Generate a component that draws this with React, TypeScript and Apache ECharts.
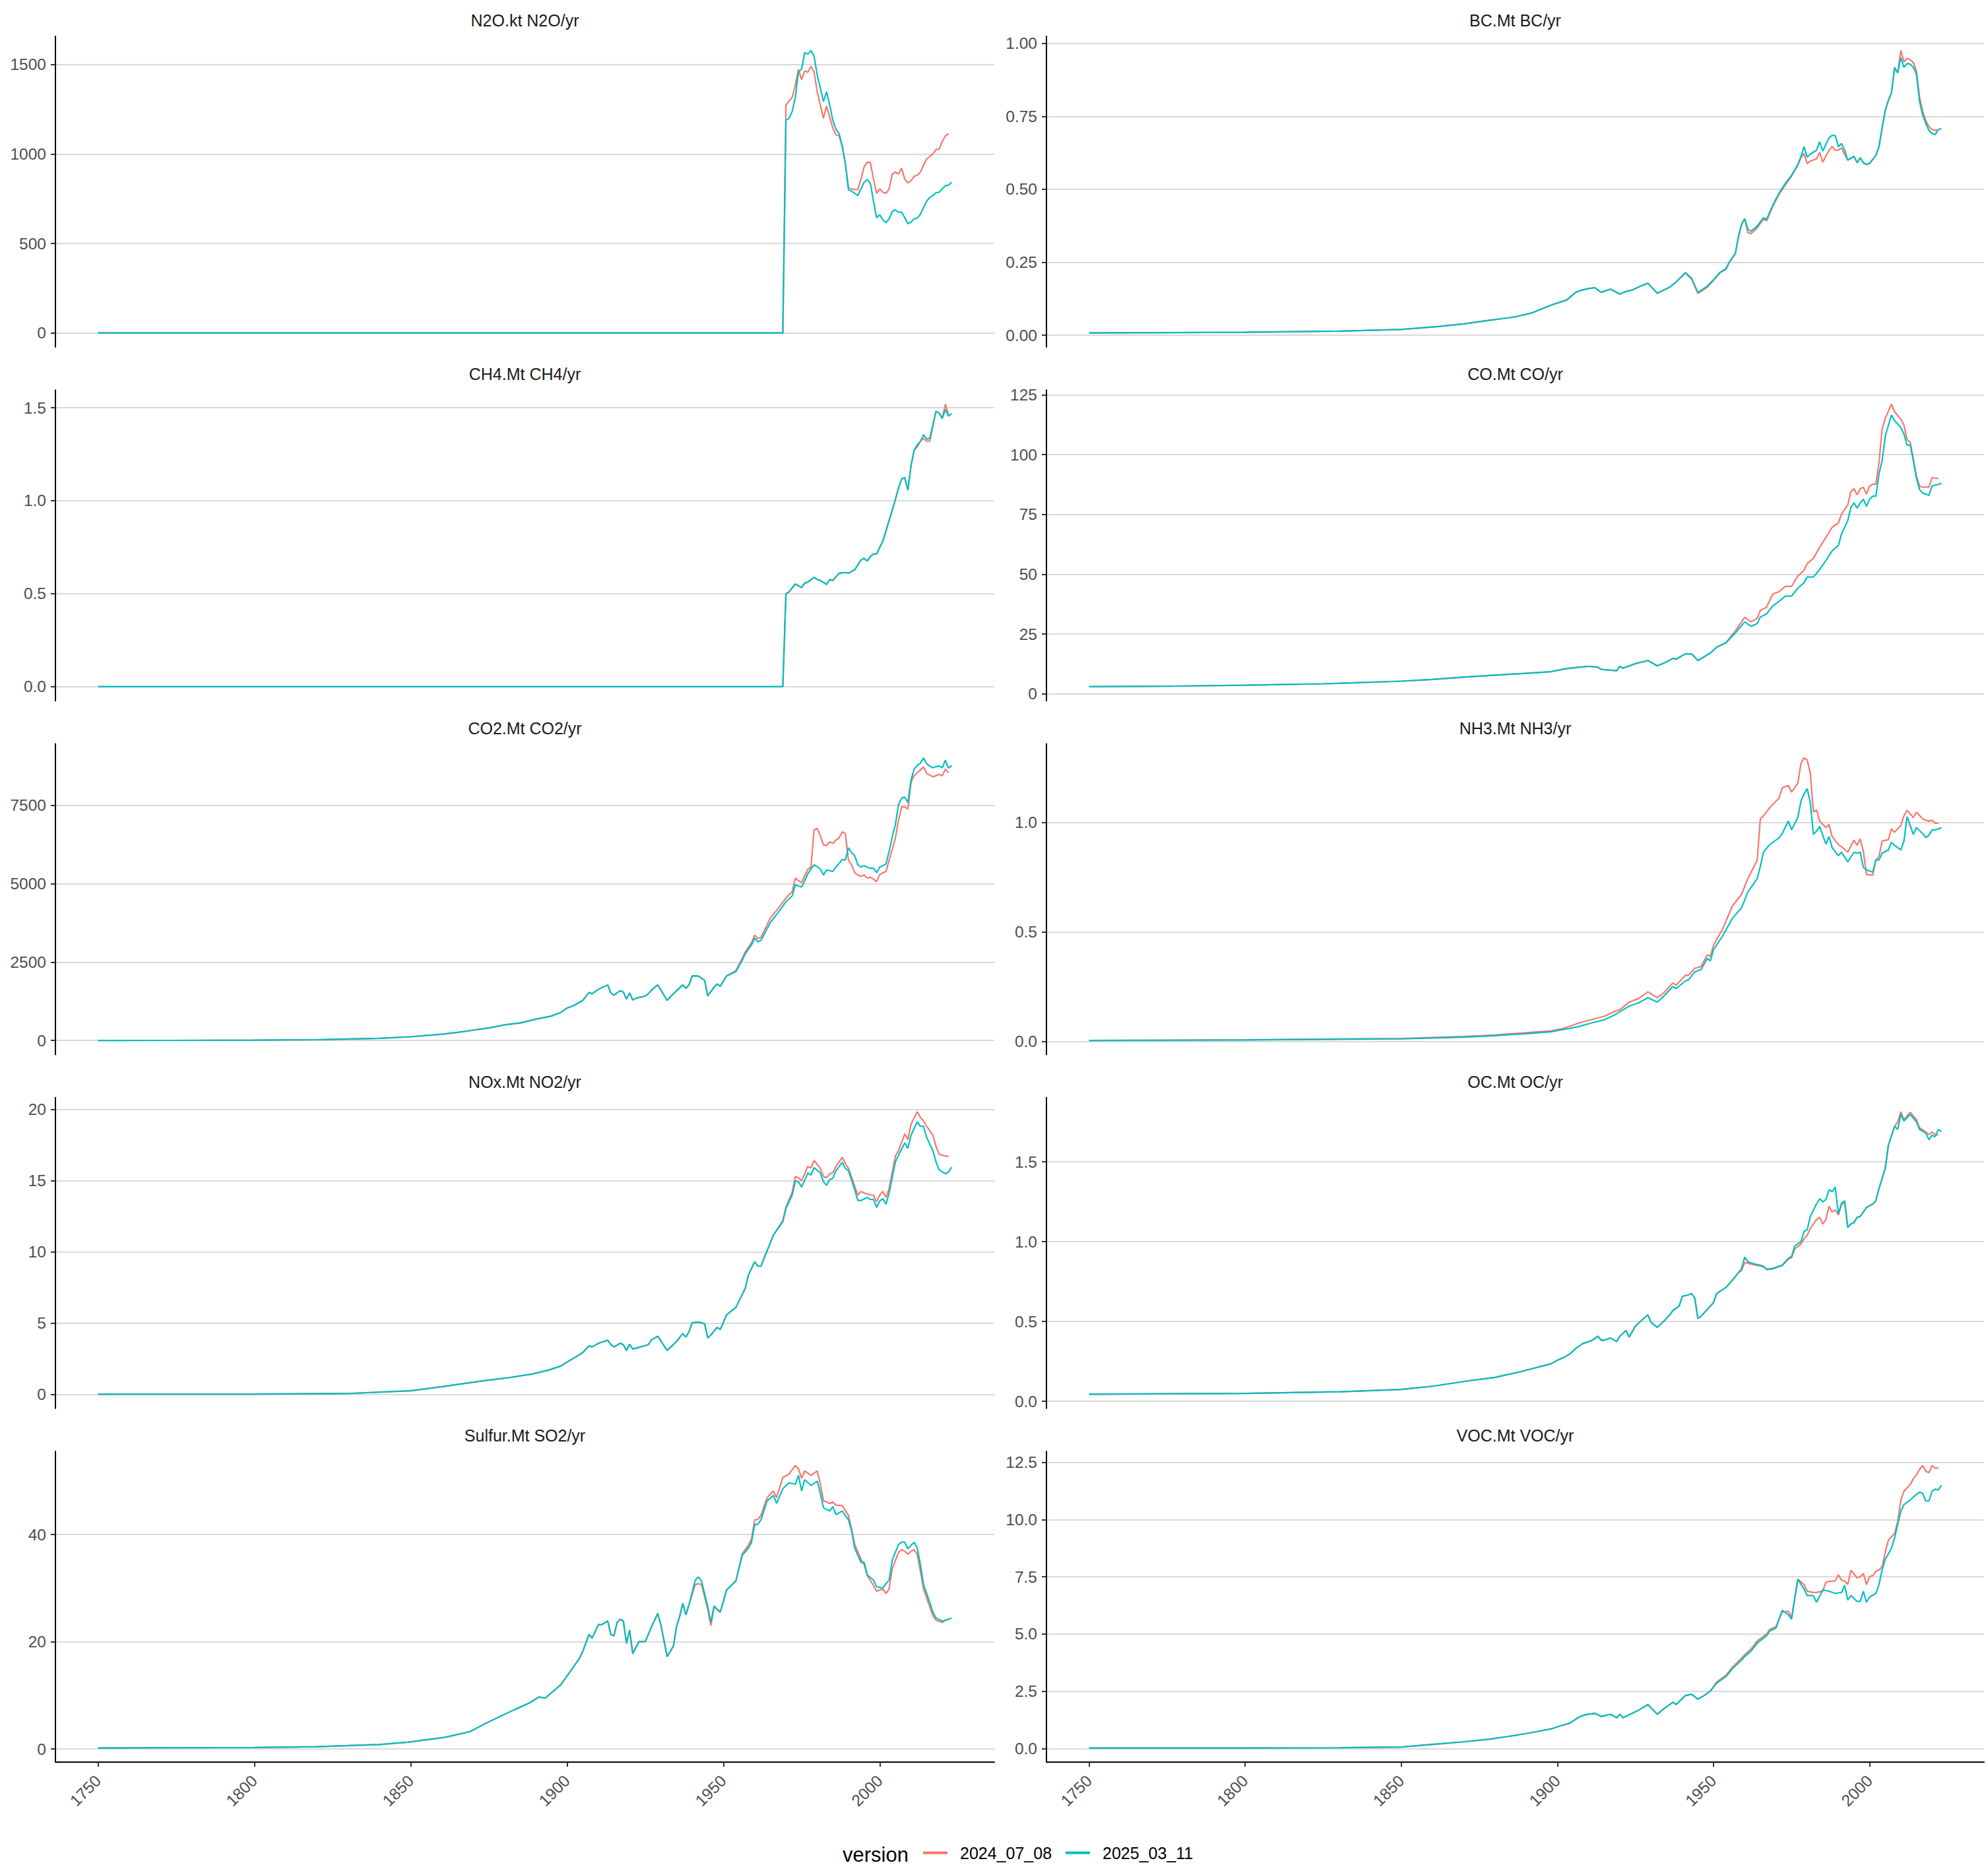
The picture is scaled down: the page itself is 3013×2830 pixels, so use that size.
import React, { useEffect, useRef } from "react";
import * as echarts from "echarts";

const FONT = "'Liberation Sans', Arial, Helvetica, sans-serif";
const VERSIONS = ["2024_07_08", "2025_03_11"];
const COLORS = ["#F8766D", "#00BFC4"];
const YEAR_TICKS = [1750, 1800, 1850, 1900, 1950, 2000];
const FIRST_YEAR = 1750;
const LAST_YEAR = 2023;

// ---------- N2O.kt N2O/yr ----------
const N2O_YEARS = [1750, 1969, 1970, 1971, 1972, 1973, 1974, 1975, 1976, 1977, 1978, 1979, 1980, 1981, 1982, 1983, 1984, 1985, 1986, 1987, 1988, 1989, 1990, 1991, 1992, 1993, 1994, 1995, 1996, 1997, 1998, 1999, 2000, 2001, 2002, 2003, 2004, 2005, 2006, 2007, 2008, 2009, 2010, 2011, 2012, 2013, 2014, 2015, 2016, 2017, 2018, 2019, 2020, 2021, 2022, 2023];
const N2O_V2024 = [0, 0, 1274, 1296, 1317, 1385, 1472, 1416, 1465, 1457, 1490, 1459, 1348, 1274, 1200, 1268, 1206, 1144, 1107, 1101, 1040, 947, 811, 805, 802, 801, 860, 928, 953, 953, 860, 780, 805, 786, 780, 805, 888, 898, 888, 920, 860, 838, 851, 875, 881, 898, 937, 972, 986, 1000, 1025, 1027, 1070, 1101, 1114, null];
const N2O_V2025 = [0, 0, 1188, 1200, 1237, 1317, 1459, 1475, 1567, 1558, 1579, 1546, 1441, 1367, 1293, 1348, 1274, 1188, 1138, 1114, 1046, 947, 799, 793, 780, 768, 805, 842, 857, 836, 737, 644, 660, 632, 616, 638, 678, 688, 675, 675, 644, 610, 620, 638, 641, 663, 700, 737, 756, 768, 784, 786, 805, 823, 826, 842];
const N2O_TICKS = [0, 500, 1000, 1500];

// ---------- BC.Mt BC/yr ----------
const BC_YEARS = [1750, 1800, 1830, 1850, 1862, 1870, 1878, 1886, 1892, 1898, 1903, 1906, 1908, 1910, 1912, 1914, 1917, 1920, 1922, 1924, 1927, 1929, 1932, 1936, 1938, 1941, 1943, 1945, 1948, 1950, 1952, 1954, 1955, 1957, 1958, 1959, 1960, 1961, 1962, 1964, 1966, 1967, 1969, 1971, 1973, 1975, 1977, 1978, 1979, 1980, 1981, 1983, 1984, 1985, 1987, 1988, 1989, 1990, 1991, 1992, 1993, 1995, 1996, 1997, 1998, 1999, 2000, 2002, 2003, 2004, 2005, 2006, 2007, 2008, 2009, 2010, 2011, 2012, 2013, 2014, 2015, 2016, 2017, 2018, 2019, 2020, 2021, 2022, 2023];
const BC_V2024 = [0.008, 0.010, 0.014, 0.020, 0.030, 0.039, 0.051, 0.062, 0.077, 0.103, 0.121, 0.148, 0.155, 0.160, 0.163, 0.147, 0.158, 0.141, 0.150, 0.155, 0.170, 0.178, 0.144, 0.165, 0.182, 0.213, 0.192, 0.143, 0.164, 0.188, 0.213, 0.226, 0.248, 0.279, 0.338, 0.379, 0.398, 0.352, 0.348, 0.368, 0.398, 0.392, 0.442, 0.483, 0.515, 0.545, 0.582, 0.608, 0.623, 0.588, 0.597, 0.604, 0.627, 0.593, 0.634, 0.647, 0.634, 0.634, 0.642, 0.619, 0.600, 0.613, 0.591, 0.608, 0.591, 0.585, 0.589, 0.616, 0.646, 0.710, 0.770, 0.804, 0.831, 0.914, 0.900, 0.976, 0.937, 0.949, 0.944, 0.934, 0.906, 0.816, 0.767, 0.736, 0.714, 0.705, 0.702, 0.704, null];
const BC_V2025 = [0.008, 0.010, 0.014, 0.020, 0.030, 0.039, 0.051, 0.062, 0.077, 0.103, 0.121, 0.148, 0.155, 0.160, 0.163, 0.147, 0.158, 0.141, 0.150, 0.155, 0.170, 0.178, 0.144, 0.165, 0.182, 0.215, 0.195, 0.147, 0.168, 0.190, 0.215, 0.228, 0.250, 0.281, 0.340, 0.381, 0.400, 0.363, 0.356, 0.374, 0.403, 0.397, 0.446, 0.487, 0.520, 0.548, 0.585, 0.612, 0.646, 0.610, 0.621, 0.634, 0.663, 0.631, 0.676, 0.685, 0.684, 0.646, 0.657, 0.634, 0.600, 0.613, 0.591, 0.608, 0.591, 0.585, 0.589, 0.616, 0.646, 0.710, 0.770, 0.804, 0.831, 0.918, 0.899, 0.952, 0.918, 0.931, 0.929, 0.918, 0.895, 0.801, 0.755, 0.725, 0.702, 0.691, 0.687, 0.705, 0.708];
const BC_TICKS = [0, 0.25, 0.5, 0.75, 1.0];

// ---------- CH4.Mt CH4/yr ----------
const CH4_YEARS = [1750, 1969, 1970, 1971, 1973, 1975, 1976, 1977, 1979, 1980, 1981, 1983, 1984, 1985, 1987, 1989, 1990, 1992, 1994, 1995, 1996, 1997, 1998, 1999, 2001, 2002, 2005, 2006, 2007, 2008, 2009, 2010, 2011, 2012, 2013, 2014, 2015, 2016, 2018, 2019, 2020, 2021, 2022, 2023];
const CH4_V2024 = [0, 0, 0.50, 0.51, 0.552, 0.533, 0.557, 0.562, 0.588, 0.576, 0.571, 0.55, 0.576, 0.571, 0.61, 0.614, 0.61, 0.629, 0.681, 0.69, 0.676, 0.70, 0.714, 0.714, 0.783, 0.838, 1.005, 1.069, 1.117, 1.124, 1.057, 1.188, 1.271, 1.29, 1.319, 1.335, 1.32, 1.32, 1.481, 1.471, 1.443, 1.519, 1.46, null];
const CH4_V2025 = [0, 0, 0.50, 0.51, 0.552, 0.533, 0.557, 0.562, 0.588, 0.576, 0.571, 0.55, 0.576, 0.571, 0.61, 0.614, 0.61, 0.629, 0.681, 0.69, 0.676, 0.70, 0.714, 0.714, 0.783, 0.838, 1.005, 1.069, 1.117, 1.124, 1.057, 1.188, 1.271, 1.30, 1.319, 1.355, 1.331, 1.336, 1.481, 1.471, 1.443, 1.49, 1.455, 1.469];
const CH4_TICKS = [0, 0.5, 1.0, 1.5];

// ---------- CO.Mt CO/yr ----------
const CO_YEARS = [1750, 1775, 1800, 1825, 1850, 1860, 1870, 1880, 1890, 1898, 1903, 1907, 1910, 1913, 1914, 1919, 1920, 1921, 1925, 1929, 1932, 1935, 1937, 1938, 1941, 1943, 1945, 1949, 1951, 1954, 1957, 1960, 1962, 1964, 1965, 1967, 1969, 1971, 1973, 1975, 1977, 1979, 1980, 1982, 1984, 1986, 1988, 1990, 1991, 1993, 1994, 1995, 1996, 1997, 1998, 1999, 2000, 2001, 2002, 2003, 2004, 2005, 2007, 2008, 2010, 2011, 2012, 2013, 2014, 2015, 2016, 2017, 2019, 2020, 2021, 2022, 2023];
const CO_V2024 = [3.0, 3.2, 3.6, 4.2, 5.3, 6.0, 7.0, 7.8, 8.6, 9.29, 10.58, 11.14, 11.51, 11.14, 10.21, 9.66, 11.51, 10.77, 12.63, 13.93, 11.70, 13.37, 14.86, 14.48, 16.71, 16.71, 13.93, 17.08, 19.50, 21.36, 26.37, 31.94, 30.08, 31.57, 34.91, 36.21, 41.78, 42.71, 44.94, 44.94, 49.21, 51.62, 54.41, 56.64, 61.28, 65.37, 69.64, 71.49, 75.21, 78.92, 84.49, 85.79, 83.19, 85.79, 86.35, 83.57, 86.91, 87.65, 87.65, 96.56, 110.5, 115.1, 121.1, 117.9, 114.8, 112.3, 106.2, 105.3, 98.4, 91.0, 86.9, 86.4, 86.4, 90.4, 90.2, 90.1, null];
const CO_V2025 = [3.0, 3.2, 3.6, 4.2, 5.3, 6.0, 7.0, 7.8, 8.6, 9.29, 10.58, 11.14, 11.51, 11.14, 10.21, 9.66, 11.51, 10.77, 12.63, 13.93, 11.70, 13.37, 14.86, 14.48, 16.71, 16.71, 13.93, 17.08, 19.50, 21.36, 25.44, 30.08, 28.23, 29.34, 32.13, 33.43, 36.77, 38.63, 40.85, 40.85, 44.20, 46.43, 48.84, 48.84, 52.00, 55.71, 59.79, 62.02, 66.85, 72.42, 78.00, 79.85, 77.62, 79.85, 81.34, 78.37, 81.34, 82.64, 82.64, 91.92, 97.49, 107.7, 116.6, 114.2, 111.4, 108.6, 104.0, 104.0, 97.49, 90.06, 85.42, 83.94, 83.01, 86.91, 87.28, 87.5, 88.02];
const CO_TICKS = [0, 25, 50, 75, 100, 125];

// ---------- CO2.Mt CO2/yr ----------
const CO2_YEARS = [1750, 1775, 1800, 1820, 1840, 1850, 1860, 1865, 1870, 1875, 1880, 1885, 1890, 1895, 1898, 1900, 1902, 1905, 1907, 1908, 1910, 1913, 1914, 1915, 1917, 1918, 1919, 1920, 1921, 1922, 1925, 1926, 1927, 1929, 1932, 1934, 1937, 1938, 1939, 1940, 1942, 1944, 1945, 1947, 1948, 1949, 1951, 1954, 1956, 1957, 1959, 1960, 1961, 1962, 1965, 1967, 1970, 1971, 1972, 1973, 1974, 1975, 1976, 1977, 1978, 1979, 1980, 1981, 1982, 1983, 1984, 1985, 1986, 1987, 1988, 1989, 1990, 1991, 1992, 1993, 1994, 1995, 1996, 1997, 1998, 1999, 2000, 2001, 2002, 2003, 2004, 2005, 2006, 2007, 2008, 2009, 2010, 2011, 2012, 2013, 2014, 2015, 2016, 2017, 2018, 2019, 2020, 2021, 2022, 2023];
const CO2_V2024 = [2, 4, 10, 25, 70, 120, 200, 260, 330, 400, 500, 560, 680, 780, 895, 1037, 1108, 1278, 1534, 1491, 1633, 1775, 1519, 1448, 1590, 1548, 1321, 1519, 1292, 1349, 1420, 1491, 1605, 1775, 1278, 1491, 1775, 1661, 1775, 2059, 2059, 1917, 1420, 1704, 1803, 1732, 2059, 2230, 2620, 2830, 3120, 3365, 3250, 3290, 3905, 4150, 4544, 4650, 4750, 5183, 5100, 5041, 5250, 5467, 5540, 6717, 6773, 6532, 6248, 6220, 6347, 6291, 6400, 6461, 6660, 6603, 5751, 5609, 5353, 5280, 5240, 5282, 5183, 5211, 5150, 5069, 5297, 5350, 5396, 5751, 6100, 6461, 7029, 7455, 7455, 7384, 8236, 8450, 8548, 8634, 8733, 8520, 8470, 8421, 8450, 8492, 8449, 8662, 8548, null];
const CO2_V2025 = [2, 4, 10, 25, 70, 120, 200, 260, 330, 400, 500, 560, 680, 780, 895, 1037, 1108, 1278, 1534, 1491, 1633, 1775, 1519, 1448, 1590, 1548, 1321, 1519, 1292, 1349, 1420, 1491, 1605, 1775, 1278, 1491, 1775, 1661, 1775, 2059, 2059, 1917, 1420, 1704, 1803, 1732, 2059, 2201, 2556, 2769, 3053, 3266, 3152, 3195, 3763, 4019, 4430, 4520, 4615, 4970, 4930, 4899, 5100, 5325, 5470, 5609, 5550, 5467, 5282, 5439, 5420, 5396, 5538, 5650, 5779, 5751, 6149, 6000, 5893, 5609, 5538, 5581, 5530, 5495, 5495, 5353, 5538, 5580, 5637, 6035, 6500, 6887, 7526, 7739, 7767, 7597, 8307, 8662, 8780, 8847, 9017, 8832, 8760, 8705, 8740, 8761, 8705, 8946, 8690, 8776];
const CO2_TICKS = [0, 2500, 5000, 7500];

// ---------- NH3.Mt NH3/yr ----------
const NH3_YEARS = [1750, 1800, 1850, 1870, 1880, 1890, 1898, 1902, 1907, 1911, 1915, 1918, 1920, 1923, 1926, 1929, 1932, 1934, 1937, 1938, 1941, 1942, 1944, 1946, 1948, 1949, 1950, 1953, 1956, 1959, 1961, 1964, 1965, 1966, 1968, 1971, 1972, 1974, 1975, 1977, 1978, 1979, 1980, 1981, 1982, 1983, 1984, 1986, 1987, 1988, 1990, 1991, 1993, 1995, 1996, 1997, 1998, 1999, 2001, 2002, 2003, 2004, 2006, 2007, 2008, 2010, 2011, 2012, 2014, 2015, 2017, 2018, 2019, 2020, 2021, 2022, 2023];
const NH3_V2024 = [0.005, 0.008, 0.014, 0.023, 0.03, 0.04, 0.049, 0.06, 0.085, 0.10, 0.115, 0.135, 0.145, 0.180, 0.196, 0.227, 0.200, 0.221, 0.267, 0.257, 0.302, 0.302, 0.334, 0.342, 0.395, 0.389, 0.439, 0.516, 0.617, 0.672, 0.743, 0.828, 1.016, 1.03, 1.067, 1.111, 1.158, 1.168, 1.138, 1.178, 1.269, 1.294, 1.285, 1.225, 1.047, 1.057, 1.006, 0.976, 0.990, 0.935, 0.899, 0.889, 0.864, 0.919, 0.895, 0.925, 0.868, 0.763, 0.759, 0.828, 0.844, 0.915, 0.921, 0.970, 0.955, 0.986, 1.030, 1.055, 1.022, 1.047, 1.016, 1.01, 1.006, 1.010, 0.996, 0.996, null];
const NH3_V2025 = [0.005, 0.007, 0.012, 0.02, 0.027, 0.036, 0.045, 0.055, 0.069, 0.085, 0.099, 0.119, 0.136, 0.162, 0.176, 0.200, 0.180, 0.206, 0.251, 0.241, 0.277, 0.281, 0.318, 0.328, 0.379, 0.368, 0.419, 0.484, 0.561, 0.611, 0.682, 0.743, 0.80, 0.864, 0.899, 0.929, 0.949, 1.006, 0.966, 1.022, 1.097, 1.13, 1.154, 1.091, 0.945, 0.96, 0.982, 0.901, 0.935, 0.885, 0.848, 0.864, 0.820, 0.864, 0.860, 0.864, 0.794, 0.783, 0.773, 0.828, 0.828, 0.860, 0.874, 0.909, 0.895, 0.874, 0.915, 1.026, 0.945, 0.976, 0.949, 0.931, 0.941, 0.966, 0.966, 0.97, 0.976];
const NH3_TICKS = [0, 0.5, 1.0];

// ---------- NOx.Mt NO2/yr ----------
const NOX_YEARS = [1750, 1800, 1830, 1850, 1860, 1870, 1875, 1881, 1889, 1894, 1898, 1901, 1902, 1905, 1907, 1908, 1910, 1913, 1914, 1915, 1917, 1918, 1919, 1920, 1921, 1922, 1926, 1927, 1929, 1932, 1935, 1937, 1938, 1939, 1940, 1942, 1944, 1945, 1946, 1948, 1949, 1951, 1954, 1957, 1958, 1960, 1961, 1962, 1964, 1966, 1969, 1970, 1972, 1973, 1974, 1975, 1976, 1977, 1978, 1979, 1981, 1982, 1983, 1984, 1985, 1986, 1988, 1989, 1990, 1992, 1993, 1994, 1996, 1997, 1998, 1999, 2000, 2001, 2002, 2003, 2005, 2006, 2008, 2009, 2010, 2012, 2013, 2014, 2015, 2017, 2018, 2019, 2021, 2022, 2023];
const NOX_V2024 = [0.01, 0.02, 0.06, 0.25, 0.54, 0.85, 1.0, 1.16, 1.43, 1.7, 1.99, 2.40, 2.52, 2.93, 3.40, 3.33, 3.58, 3.80, 3.49, 3.33, 3.58, 3.49, 3.08, 3.52, 3.18, 3.24, 3.49, 3.83, 4.08, 3.08, 3.71, 4.27, 4.02, 4.39, 5.02, 5.08, 4.95, 3.96, 4.17, 4.70, 4.55, 5.58, 6.11, 7.45, 8.38, 9.31, 9.00, 9.00, 10.09, 11.18, 12.2, 13.15, 14.2, 15.30, 15.2, 15.0, 15.48, 16.01, 15.9, 16.42, 15.86, 15.30, 15.2, 15.48, 15.55, 16.0, 16.64, 16.2, 15.86, 14.61, 13.99, 14.24, 14.05, 14.0, 13.99, 13.52, 13.99, 14.24, 13.83, 14.45, 16.73, 17.10, 18.29, 17.88, 18.97, 19.84, 19.44, 19.2, 18.82, 18.19, 17.41, 16.85, 16.73, 16.70, null];
const NOX_V2025 = [0.01, 0.02, 0.06, 0.25, 0.54, 0.85, 1.0, 1.16, 1.43, 1.7, 1.99, 2.40, 2.52, 2.93, 3.40, 3.33, 3.58, 3.80, 3.49, 3.33, 3.58, 3.49, 3.08, 3.52, 3.18, 3.24, 3.49, 3.83, 4.08, 3.08, 3.71, 4.27, 4.02, 4.39, 5.02, 5.08, 4.95, 3.96, 4.17, 4.70, 4.55, 5.58, 6.11, 7.45, 8.38, 9.31, 9.00, 9.00, 10.09, 11.18, 12.12, 13.05, 13.99, 14.98, 14.92, 14.55, 15.02, 15.55, 15.39, 15.92, 15.55, 14.92, 14.67, 15.08, 15.17, 15.70, 16.29, 15.86, 15.70, 14.36, 13.61, 13.61, 13.83, 13.68, 13.68, 13.12, 13.58, 13.74, 13.36, 14.14, 16.32, 16.79, 17.66, 17.26, 18.19, 19.13, 18.82, 18.82, 18.04, 17.10, 16.32, 15.76, 15.48, 15.61, 15.95];
const NOX_TICKS = [0, 5, 10, 15, 20];

// ---------- OC.Mt OC/yr ----------
const OC_YEARS = [1750, 1800, 1830, 1850, 1860, 1872, 1880, 1888, 1898, 1900, 1902, 1904, 1906, 1908, 1911, 1913, 1914, 1915, 1917, 1919, 1920, 1922, 1923, 1925, 1927, 1929, 1930, 1932, 1934, 1936, 1937, 1939, 1940, 1942, 1943, 1944, 1945, 1946, 1948, 1950, 1951, 1954, 1956, 1958, 1959, 1960, 1961, 1963, 1965, 1966, 1967, 1969, 1972, 1974, 1975, 1976, 1978, 1979, 1980, 1981, 1983, 1984, 1985, 1986, 1987, 1988, 1989, 1990, 1991, 1992, 1993, 1994, 1995, 1996, 1997, 1999, 2001, 2002, 2003, 2005, 2006, 2008, 2009, 2010, 2011, 2013, 2015, 2016, 2018, 2019, 2020, 2021, 2022, 2023];
const OC_V2024 = [0.045, 0.05, 0.06, 0.075, 0.095, 0.13, 0.15, 0.185, 0.236, 0.258, 0.275, 0.297, 0.333, 0.361, 0.381, 0.408, 0.383, 0.383, 0.397, 0.375, 0.408, 0.444, 0.403, 0.472, 0.508, 0.542, 0.494, 0.464, 0.500, 0.542, 0.569, 0.597, 0.658, 0.667, 0.675, 0.647, 0.519, 0.533, 0.575, 0.619, 0.675, 0.714, 0.758, 0.806, 0.82, 0.869, 0.865, 0.855, 0.848, 0.842, 0.825, 0.830, 0.850, 0.89, 0.90, 0.955, 0.985, 1.019, 1.040, 1.083, 1.139, 1.153, 1.111, 1.139, 1.222, 1.186, 1.200, 1.167, 1.231, 1.25, 1.089, 1.111, 1.119, 1.153, 1.158, 1.214, 1.236, 1.256, 1.333, 1.458, 1.603, 1.722, 1.75, 1.814, 1.764, 1.811, 1.764, 1.714, 1.686, 1.672, 1.686, 1.672, 1.667, null];
const OC_V2025 = [0.045, 0.05, 0.06, 0.075, 0.095, 0.13, 0.15, 0.185, 0.236, 0.258, 0.275, 0.297, 0.333, 0.361, 0.381, 0.408, 0.383, 0.383, 0.397, 0.375, 0.408, 0.444, 0.403, 0.472, 0.508, 0.542, 0.494, 0.464, 0.500, 0.542, 0.569, 0.597, 0.658, 0.667, 0.675, 0.647, 0.519, 0.533, 0.575, 0.619, 0.675, 0.714, 0.758, 0.806, 0.833, 0.903, 0.875, 0.861, 0.853, 0.847, 0.828, 0.833, 0.853, 0.897, 0.908, 0.972, 1.000, 1.064, 1.075, 1.158, 1.236, 1.269, 1.250, 1.264, 1.325, 1.314, 1.342, 1.175, 1.242, 1.256, 1.089, 1.111, 1.119, 1.153, 1.158, 1.214, 1.236, 1.256, 1.333, 1.458, 1.603, 1.722, 1.703, 1.797, 1.756, 1.797, 1.750, 1.703, 1.681, 1.639, 1.667, 1.658, 1.703, 1.689];
const OC_TICKS = [0, 0.5, 1.0, 1.5];

// ---------- Sulfur.Mt SO2/yr ----------
const SO2_YEARS = [1750, 1800, 1820, 1840, 1849, 1861, 1869, 1873, 1879, 1883, 1888, 1891, 1893, 1898, 1900, 1902, 1904, 1905, 1907, 1908, 1910, 1911, 1913, 1914, 1915, 1916, 1917, 1918, 1919, 1920, 1921, 1923, 1925, 1927, 1929, 1930, 1932, 1934, 1935, 1936, 1937, 1938, 1939, 1941, 1942, 1943, 1945, 1946, 1947, 1948, 1949, 1951, 1954, 1956, 1958, 1959, 1960, 1961, 1962, 1964, 1966, 1967, 1969, 1971, 1973, 1974, 1975, 1976, 1978, 1980, 1981, 1982, 1984, 1985, 1986, 1988, 1990, 1991, 1992, 1994, 1995, 1996, 1998, 1999, 2001, 2002, 2003, 2004, 2006, 2007, 2008, 2009, 2010, 2011, 2012, 2013, 2014, 2016, 2017, 2018, 2020, 2021, 2022, 2023];
const SO2_V2024 = [0.2, 0.3, 0.45, 0.85, 1.27, 2.2, 3.26, 4.5, 6.2, 7.3, 8.6, 9.7, 9.5, 12.0, 13.63, 15.3, 16.96, 18.2, 21.36, 20.7, 23.19, 23.19, 23.86, 21.36, 21.11, 23.61, 24.19, 23.86, 19.7, 22.19, 17.79, 20.03, 20.03, 22.78, 25.27, 23.19, 17.21, 19.2, 22.78, 24.69, 27.18, 25.02, 26.93, 30.67, 30.84, 30.67, 26.0, 23.03, 26.5, 26.0, 25.5, 29.6, 31.4, 36.4, 38.0, 39.2, 42.73, 42.8, 43.56, 46.88, 48.13, 46.88, 50.62, 51.29, 52.87, 52.29, 50.46, 51.87, 51.04, 51.87, 49.38, 46.30, 45.80, 46.05, 45.47, 45.39, 43.56, 41.06, 38.15, 35.4, 34.41, 32.34, 30.5, 29.43, 29.84, 29.01, 29.84, 33.58, 36.66, 37.16, 36.91, 36.33, 36.91, 37.16, 36.33, 33.17, 29.84, 26.52, 24.86, 24.02, 23.61, 24.02, 24.19, null];
const SO2_V2025 = [0.2, 0.3, 0.45, 0.85, 1.27, 2.2, 3.26, 4.5, 6.2, 7.3, 8.6, 9.7, 9.5, 12.0, 13.63, 15.3, 16.96, 18.2, 21.36, 20.7, 23.19, 23.19, 23.86, 21.36, 21.11, 23.61, 24.19, 23.86, 19.7, 22.19, 17.79, 20.03, 20.03, 22.78, 25.27, 23.19, 17.21, 19.2, 22.78, 24.69, 27.18, 25.02, 26.93, 31.5, 32.09, 31.34, 26.52, 23.61, 26.68, 26.1, 25.52, 29.68, 31.34, 36.08, 37.49, 38.57, 41.9, 41.9, 42.73, 46.3, 47.3, 45.8, 48.55, 49.63, 49.38, 51.04, 48.13, 50.21, 49.13, 49.96, 47.71, 44.97, 44.39, 45.22, 43.72, 44.39, 42.73, 40.65, 37.49, 34.8, 34.83, 32.5, 31.5, 30.26, 30.01, 30.84, 31.5, 35.25, 38.15, 38.57, 38.57, 37.32, 37.99, 38.57, 37.49, 34.41, 30.67, 27.35, 25.52, 24.44, 23.86, 24.02, 24.2, 24.44];
const SO2_TICKS = [0, 20, 40];

// ---------- VOC.Mt VOC/yr ----------
const VOC_YEARS = [1750, 1800, 1830, 1850, 1862, 1870, 1878, 1884, 1890, 1894, 1898, 1901, 1904, 1907, 1909, 1912, 1914, 1917, 1919, 1920, 1921, 1924, 1926, 1929, 1932, 1934, 1937, 1938, 1941, 1943, 1945, 1947, 1949, 1951, 1954, 1956, 1959, 1960, 1962, 1964, 1967, 1968, 1970, 1972, 1974, 1975, 1977, 1979, 1980, 1982, 1983, 1985, 1986, 1987, 1989, 1990, 1991, 1992, 1993, 1994, 1996, 1997, 1998, 1999, 2000, 2001, 2002, 2003, 2004, 2005, 2006, 2007, 2008, 2009, 2010, 2011, 2013, 2014, 2015, 2016, 2017, 2018, 2019, 2020, 2021, 2022, 2023];
const VOC_V2024 = [0.02, 0.02, 0.03, 0.06, 0.2, 0.29, 0.40, 0.52, 0.65, 0.75, 0.854, 0.99, 1.107, 1.379, 1.476, 1.534, 1.398, 1.495, 1.34, 1.495, 1.34, 1.534, 1.67, 1.922, 1.495, 1.728, 2.019, 1.922, 2.311, 2.369, 2.155, 2.311, 2.505, 2.9, 3.2, 3.55, 3.95, 4.1, 4.35, 4.7, 5.0, 5.2, 5.32, 5.96, 6.0, 5.71, 7.40, 7.165, 6.874, 6.816, 6.816, 6.874, 7.262, 7.30, 7.32, 7.59, 7.36, 7.32, 7.165, 7.786, 7.456, 7.5, 7.65, 7.165, 7.515, 7.553, 7.747, 7.8, 7.942, 8.563, 9.107, 9.25, 9.398, 9.922, 10.854, 11.243, 11.534, 11.786, 11.961, 12.2, 12.369, 12.117, 12.058, 12.369, 12.252, 12.252, null];
const VOC_V2025 = [0.02, 0.02, 0.03, 0.06, 0.2, 0.29, 0.40, 0.52, 0.65, 0.75, 0.854, 0.99, 1.107, 1.379, 1.476, 1.534, 1.398, 1.495, 1.34, 1.495, 1.34, 1.534, 1.67, 1.922, 1.495, 1.728, 2.019, 1.922, 2.311, 2.369, 2.155, 2.311, 2.505, 2.854, 3.146, 3.476, 3.864, 4.019, 4.252, 4.602, 4.932, 5.126, 5.262, 6.039, 5.845, 5.65, 7.398, 6.971, 6.680, 6.680, 6.388, 6.932, 6.9, 6.874, 6.777, 6.8, 6.816, 7.126, 6.485, 6.680, 6.427, 6.427, 6.874, 6.388, 6.621, 6.7, 6.777, 7.165, 7.8, 8.272, 8.5, 8.757, 9.204, 9.8, 10.369, 10.660, 10.854, 10.990, 11.1, 11.204, 11.146, 10.816, 10.816, 11.243, 11.34, 11.30, 11.50];
const VOC_TICKS = [0, 2.5, 5, 7.5, 10, 12.5];

const PANELS = [
  { title: "N2O.kt N2O/yr", years: N2O_YEARS, a: N2O_V2024, b: N2O_V2025, ticks: N2O_TICKS, dec: 0 },
  { title: "BC.Mt BC/yr", years: BC_YEARS, a: BC_V2024, b: BC_V2025, ticks: BC_TICKS, dec: 2 },
  { title: "CH4.Mt CH4/yr", years: CH4_YEARS, a: CH4_V2024, b: CH4_V2025, ticks: CH4_TICKS, dec: 1 },
  { title: "CO.Mt CO/yr", years: CO_YEARS, a: CO_V2024, b: CO_V2025, ticks: CO_TICKS, dec: 0 },
  { title: "CO2.Mt CO2/yr", years: CO2_YEARS, a: CO2_V2024, b: CO2_V2025, ticks: CO2_TICKS, dec: 0 },
  { title: "NH3.Mt NH3/yr", years: NH3_YEARS, a: NH3_V2024, b: NH3_V2025, ticks: NH3_TICKS, dec: 1 },
  { title: "NOx.Mt NO2/yr", years: NOX_YEARS, a: NOX_V2024, b: NOX_V2025, ticks: NOX_TICKS, dec: 0 },
  { title: "OC.Mt OC/yr", years: OC_YEARS, a: OC_V2024, b: OC_V2025, ticks: OC_TICKS, dec: 1 },
  { title: "Sulfur.Mt SO2/yr", years: SO2_YEARS, a: SO2_V2024, b: SO2_V2025, ticks: SO2_TICKS, dec: 0 },
  { title: "VOC.Mt VOC/yr", years: VOC_YEARS, a: VOC_V2024, b: VOC_V2025, ticks: VOC_TICKS, dec: 1 },
];

function buildOption() {
  const xPad = (LAST_YEAR - FIRST_YEAR) * 0.05;
  const xMin = FIRST_YEAR - xPad;
  const xMax = LAST_YEAR + xPad;
  const grids: any[] = [];
  const xAxes: any[] = [];
  const yAxes: any[] = [];
  const series: any[] = [];
  const graphics: any[] = [];
  PANELS.forEach((p, i) => {
    const col = i % 2;
    const row = Math.floor(i / 2);
    const left = col === 0 ? 84 : 1586;
    const width = col === 0 ? 1423 : 1421;
    const top = 55 + row * 536.25;
    const height = 471;
    grids.push({ left, top, width, height, containLabel: false });
    const bottom = row === 4;
    xAxes.push({
      type: "value",
      gridIndex: i,
      min: xMin,
      max: xMax,
      show: bottom,
      axisLine: { show: bottom, onZero: false, lineStyle: { color: "#000000", width: 2 } },
      axisTick: { show: bottom, length: 7, customValues: YEAR_TICKS, lineStyle: { color: "#333333", width: 2 } },
      axisLabel: {
        show: bottom,
        customValues: YEAR_TICKS,
        rotate: 45,
        margin: 24,
        color: "#4D4D4D",
        fontSize: 24.5,
        fontFamily: FONT,
        formatter: (v: number) => String(Math.round(v)),
      },
      splitLine: { show: false },
    });
    const vals = [...p.a, ...p.b].filter((v) => v !== null && v !== undefined) as number[];
    const lo = Math.min(...vals);
    const hi = Math.max(...vals);
    const pad = (hi - lo) * 0.05;
    yAxes.push({
      type: "value",
      gridIndex: i,
      min: lo - pad,
      max: hi + pad,
      axisLine: { show: true, onZero: false, lineStyle: { color: "#000000", width: 2 } },
      axisTick: { show: true, length: 7, customValues: p.ticks, lineStyle: { color: "#333333", width: 2 } },
      axisLabel: {
        customValues: p.ticks,
        margin: 14,
        color: "#4D4D4D",
        fontSize: 24.5,
        fontFamily: FONT,
        formatter: (v: number) => v.toFixed(p.dec),
      },
      splitLine: { show: true, lineStyle: { color: "#D9D9D9", width: 2 } },
    });
    [p.a, p.b].forEach((arr, k) => {
      series.push({
        type: "line",
        name: VERSIONS[k],
        xAxisIndex: i,
        yAxisIndex: i,
        data: p.years.map((yr, j) => [yr, arr[j]]),
        showSymbol: false,
        symbol: "none",
        connectNulls: false,
        silent: true,
        lineStyle: { color: COLORS[k], width: 2.2 },
        itemStyle: { color: COLORS[k] },
        z: 2 + k,
      });
    });
    graphics.push({
      type: "text",
      x: left + width / 2,
      y: top - 24,
      style: {
        text: p.title,
        fontSize: 25,
        fontFamily: FONT,
        fill: "#1A1A1A",
        align: "center",
        verticalAlign: "middle",
      },
    });
  });
  graphics.push({
    type: "text",
    x: 1277,
    y: 2811,
    style: {
      text: "version",
      fontSize: 31,
      fontFamily: FONT,
      fill: "#000000",
      align: "left",
      verticalAlign: "middle",
    },
  });
  return {
    animation: false,
    backgroundColor: "#FFFFFF",
    grid: grids,
    xAxis: xAxes,
    yAxis: yAxes,
    series,
    graphic: graphics,
    legend: {
      data: VERSIONS.map((n, k) => ({ name: n, itemStyle: { color: COLORS[k] } })),
      left: 1399,
      top: 2796,
      orient: "horizontal",
      icon: "rect",
      itemWidth: 37,
      itemHeight: 4,
      itemGap: 21,
      padding: 0,
      selectedMode: false,
      textStyle: { fontSize: 25, color: "#000000", fontFamily: FONT, padding: [0, 0, 0, 14] },
    },
  };
}

export default function App() {
  const ref = useRef<HTMLDivElement>(null);
  useEffect(() => {
    if (!ref.current) return;
    const chart = echarts.init(ref.current, undefined, { renderer: "svg" });
    chart.setOption(buildOption() as any);
    return () => chart.dispose();
  }, []);
  return (
    <div
      ref={ref}
      style={{ position: "absolute", left: 0, top: 0, width: 3013, height: 2830, background: "#FFFFFF" }}
    />
  );
}
